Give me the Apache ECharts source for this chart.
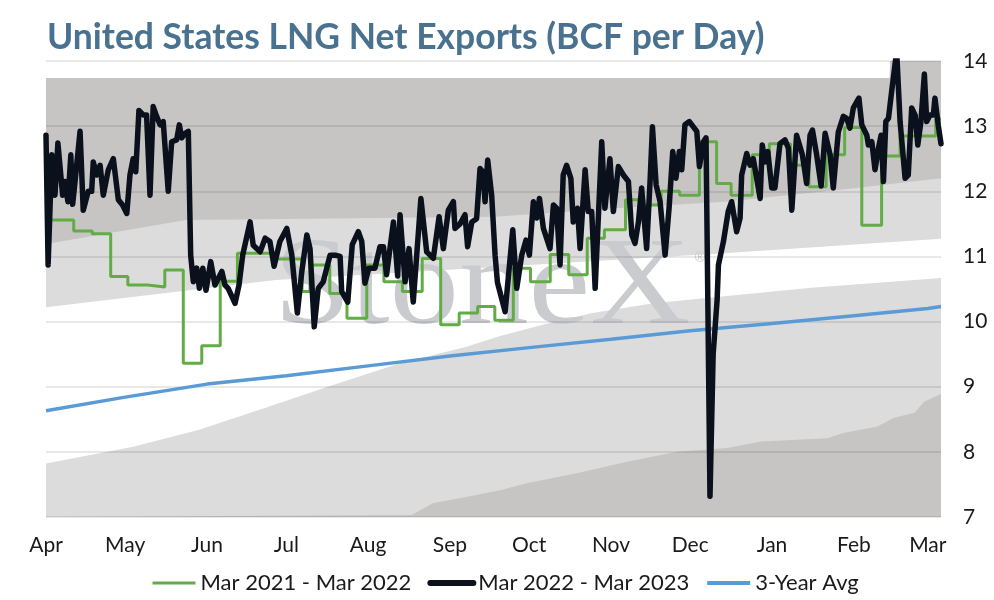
<!DOCTYPE html>
<html>
<head>
<meta charset="utf-8">
<script src="https://cdn.jsdelivr.net/npm/echarts@6/dist/echarts.min.js"></script>
<style>
  html, body { margin: 0; padding: 0; background: #fff; }
  #chart { width: 994px; height: 600px; }
</style>
</head>
<body>
<div id="chart"></div>
<script>
// x positions are days counted from Apr 1
const monthDays = [0, 30, 61, 91, 122, 153, 183, 214, 244, 275, 306, 334]
const monthLabels = ['Apr', 'May', 'Jun', 'Jul', 'Aug', 'Sep', 'Oct', 'Nov', 'Dec', 'Jan', 'Feb', 'Mar']

// Mar 2022 - Mar 2023 (black)
const days2223 = [0, 0.8, 2.2, 3.4, 4.5, 6.3, 7.2, 8.3, 9.4, 10.1, 11, 12.9, 14.1, 16, 17.3, 17.9, 19.2, 20.5, 21.7, 23.6,
  25.5, 27.4, 29, 30.6, 31.8, 33, 34, 35.2, 36.9, 38.1, 39.4, 40.6, 41.9, 43.2, 44.4, 46.3, 47.6, 49.5, 50.5, 51.4,
  52.7, 53.9, 54.8, 55.8, 57.1, 58.1, 59.4, 60.6, 62.4, 64, 66.6, 67.8, 69, 71.6, 73.1, 74.5, 77.3, 78.5, 81.1, 83,
  84.8, 86.4, 88.6, 91.2, 93.1, 95.2, 96.9, 98.8, 100, 101.6, 103.1, 105, 107.6, 109.5, 111.4, 112, 114.3, 116, 118.3, 119.6,
  120.8, 122.3, 124.6, 126.5, 127.8, 129, 131.6, 133.2, 134.1, 136, 137.5, 139.1, 142, 144.2, 146.7, 148.9, 150.5, 152.4, 154.3, 154.9,
  156.8, 158.7, 159.7, 161.3, 163.1, 164.4, 165.5, 166.3, 167.3, 168.8, 170.1, 171, 173.9, 176.8, 178.3, 180.2, 181.8, 183.1, 184.6, 185.9,
  186.9, 188.4, 190.9, 192.2, 193.4, 194.7, 195.9, 197.2, 198.8, 199.7, 201.3, 202.3, 204.2, 205.4, 206.7, 208, 210.5, 211.7, 213.6, 214.9,
  216.8, 218.7, 220.6, 221.9, 223.1, 224.4, 225.6, 227.5, 228.8, 229.7, 231.1, 232.6, 234.5, 236, 237.4, 238.6, 239.9, 240.8, 242, 243.7,
  245.2, 246.5, 247.5, 249, 250, 251.5, 252.7, 254.2, 254.7, 256.6, 258.4, 259.7, 261.6, 262.9, 263.5, 265.4, 266.7, 267.9, 270.5, 271.3,
  272.3, 273.4, 274.9, 276.1, 278, 279.9, 281.2, 282.5, 284.3, 286.5, 288.1, 289.4, 290.3, 291.9, 293.6, 295.1, 297, 298.2, 300.1, 302,
  303.3, 304.5, 305.8, 307.9, 309, 310.9, 311.5, 312.8, 314, 315.3, 316.3, 317.2, 318.1, 319.1, 320.3, 322.2, 323.5, 325.4, 326.6, 327.9,
  329.2, 330.2, 331.4, 332.7, 333.6, 334.8, 336.1, 336.7, 338, 339]
const vals2223 = [12.86, 10.87, 12.56, 11.94, 12.74, 11.94, 12.15, 11.84, 12.56, 11.8, 12.15, 12.92, 11.71, 12.0, 12.0, 12.45, 12.25, 12.4, 11.94, 12.33,
  12.5, 11.87, 11.79, 11.66, 12.25, 12.5, 12.3, 13.24, 13.17, 13.17, 11.94, 13.3, 13.15, 13.02, 13.07, 12.0, 12.76, 12.79, 13.02, 12.82,
  12.89, 12.92, 11.02, 10.61, 10.82, 10.51, 10.82, 10.48, 10.92, 10.56, 10.77, 10.56, 10.51, 10.28, 10.56, 11.02, 11.53, 11.17, 11.07, 11.28,
  11.23, 10.85, 11.23, 11.43, 11.02, 10.13, 10.77, 11.33, 11.12, 9.92, 10.51, 10.61, 11.02, 11.02, 11.0, 10.46, 10.3, 11.18, 11.38, 11.23,
  10.59, 10.82, 10.82, 11.15, 11.15, 10.72, 11.53, 10.7, 11.64, 10.61, 11.12, 10.3, 11.89, 11.07, 10.97, 11.61, 11.12, 11.71, 11.84, 11.43,
  11.5, 11.64, 11.15, 11.53, 11.58, 12.35, 12.3, 11.84, 12.48, 11.94, 11.02, 10.6, 10.15, 11.41, 10.51, 11.02, 11.25, 11.02, 11.84, 11.59,
  11.89, 11.43, 11.12, 11.79, 11.74, 10.87, 12.25, 12.4, 12.2, 11.53, 11.74, 11.12, 12.33, 11.69, 11.69, 10.51, 12.76, 11.74, 12.5, 11.69,
  12.38, 12.25, 12.15, 11.33, 11.2, 11.53, 12.05, 11.12, 12.15, 12.99, 12.1, 11.84, 11.02, 11.74, 12.61, 12.2, 12.61, 12.33, 13.02, 13.07,
  12.99, 12.92, 12.38, 12.76, 12.82, 7.32, 9.5, 10.33, 10.87, 11.23, 11.69, 11.84, 11.38, 11.59, 12.25, 12.58, 12.4, 12.5, 11.89, 12.71,
  12.45, 12.61, 12.05, 12.05, 12.73, 12.79, 12.66, 11.71, 12.86, 12.56, 12.12, 12.86, 12.94, 12.56, 12.08, 12.89, 12.56, 12.05, 12.91, 13.15,
  13.12, 12.97, 13.28, 13.43, 13.02, 12.86, 12.71, 12.76, 12.33, 12.66, 12.86, 12.15, 13.07, 13.12, 13.53, 14.15, 13.07, 12.2, 12.25, 13.28,
  13.17, 12.71, 13.07, 13.8, 13.07, 13.17, 13.17, 13.43, 13.0, 12.73]

// Mar 2021 - Mar 2022 (green, weekly steps: day each level starts)
const days2122 = [0, 10.5, 17.5, 24.5, 31, 38.5, 45, 52, 59, 66, 72.5, 87.5, 97, 100, 107.5, 114, 121.5, 128, 135, 142.5,
  149.5, 156.5, 163.5, 170, 177, 183.5, 191, 198, 205, 211.5, 219.5, 226.5, 233, 240, 247.5, 254, 259.5, 267.5, 274, 282,
  289, 295.5, 302.5, 309, 316.5, 323.5, 337, 339]
const vals2122 = [11.56, 11.39, 11.35, 10.69, 10.56, 10.53, 10.79, 9.36, 9.63, 10.62, 11.05, 10.96, 10.46, 10.87, 10.43, 10.05, 10.87, 10.61, 10.46, 10.97,
  9.95, 10.13, 10.23, 10.02, 10.82, 10.61, 11.03, 10.72, 11.28, 11.41, 11.87, 11.79, 12.0, 11.94, 12.76, 12.12, 11.94, 12.56, 12.73, 12.4,
  12.07, 12.56, 12.98, 11.48, 12.54, 12.85, 13.11, 13.11]

// 3-Year Avg (blue)
const daysAvg = [0, 30, 61, 91, 122, 153, 183, 214, 244, 275, 306, 334, 339]
const valsAvg = [8.63, 8.84, 9.04, 9.17, 9.32, 9.47, 9.6, 9.73, 9.86, 9.97, 10.09, 10.2, 10.23]

// range bands behind the lines (top edge of each band)
const daysMax = [0, 319.5, 320, 339]
const valsMax = [13.74, 13.74, 14.3, 14.3]
const daysHigh = [0, 53, 100, 170, 220, 257, 300, 339]
const valsHigh = [11.19, 11.56, 11.58, 11.61, 11.75, 11.84, 12.02, 12.2]
const daysMidHigh = [0, 87, 172, 244, 254, 339]
const valsMidHigh = [10.22, 10.64, 10.84, 11.02, 11.04, 11.27]
const daysMidLow = [0, 33, 58, 84, 109, 134, 159, 172, 190, 207, 230, 255, 290, 339]
const valsMidLow = [7.82, 8.08, 8.34, 8.69, 9.03, 9.36, 9.61, 9.78, 9.97, 10.13, 10.28, 10.38, 10.52, 10.67]
const daysMin = [0, 138.5, 146.5, 159.5, 172, 182, 201, 220, 239, 258, 271, 296, 302, 315, 321, 329, 332.6, 339]
const valsMin = [7, 7.03, 7.21, 7.31, 7.41, 7.52, 7.67, 7.85, 8.0, 8.06, 8.16, 8.21, 8.29, 8.39, 8.52, 8.6, 8.77, 8.89]

const zip = (xs, ys) => xs.map((x, i) => [x, ys[i]])

const darkBand = '#c6c5c4'
const lightBand = '#dcdcdc'
const band = (data, color) => ({
  type: 'line',
  data,
  symbol: 'none',
  silent: true,
  z: 1,
  lineStyle: { width: 0 },
  areaStyle: { color, opacity: 1, origin: 'start' },
  animation: false,
})

const font = 'Lato, "Open Sans", sans-serif'
const chart = echarts.init(document.getElementById('chart'), null, { renderer: 'canvas' })
chart.setOption({
  animation: false,
  backgroundColor: '#fff',
  title: {
    text: 'United States LNG Net Exports (BCF per Day)',
    left: 42,
    top: 15,
    textStyle: { color: '#48728f', fontFamily: font, fontWeight: 700, fontSize: 35.5 },
  },
  grid: { left: 46, right: 53, top: 61, bottom: 83, outerBoundsMode: 'none' },
  legend: {
    left: 146,
    top: 567,
    itemWidth: 43,
    itemHeight: 14,
    itemGap: 16,
    itemStyle: { opacity: 0 },
    data: [
      { name: 'Mar 2021 - Mar 2022', lineStyle: { width: 3 } },
      { name: 'Mar 2022 - Mar 2023', lineStyle: { width: 6 } },
      { name: '3-Year Avg', lineStyle: { width: 4 } },
    ],
    textStyle: { color: '#1a1a1a', fontFamily: font, fontSize: 22 },
  },
  graphic: [
    {
      type: 'text',
      z: 2,
      silent: true,
      x: 482,
      y: 290,
      scaleX: 1.12,
      style: {
        text: 'StoneX',
        x: 0,
        y: 0,
        align: 'center',
        verticalAlign: 'middle',
        font: '124px "Liberation Serif", serif',
        fill: '#c9cbce',
      },
    },
    {
      type: 'text',
      z: 2,
      silent: true,
      style: { text: '®', x: 700, y: 258, align: 'center', verticalAlign: 'middle', font: '14px sans-serif', fill: '#c9cbce' },
    },
  ],
  xAxis: {
    type: 'value',
    min: 0,
    max: 339,
    axisLine: { show: false },
    axisTick: { show: false },
    splitLine: { show: false },
    axisLabel: {
      customValues: monthDays,
      formatter: (v) => monthLabels[monthDays.indexOf(v)] || '',
      margin: 18,
      color: '#1a1a1a',
      fontFamily: font,
      fontSize: 21,
    },
  },
  yAxis: {
    type: 'value',
    position: 'right',
    min: 7,
    max: 14,
    interval: 1,
    z: 3,
    axisLine: { show: false },
    axisTick: { show: false },
    splitLine: { lineStyle: { color: 'rgba(0,0,0,0.12)', width: 1.5 } },
    axisLabel: { margin: 22, align: 'left', color: '#1a1a1a', fontFamily: font, fontSize: 21 },
  },
  series: [
    band(zip(daysMax, valsMax), darkBand),
    band(zip(daysHigh, valsHigh), lightBand),
    band(zip(daysMidHigh, valsMidHigh), '#ffffff'),
    band(zip(daysMidLow, valsMidLow), lightBand),
    band(zip(daysMin, valsMin), darkBand),
    {
      name: 'Mar 2021 - Mar 2022',
      type: 'line',
      step: 'end',
      data: zip(days2122, vals2122),
      symbol: 'none',
      z: 4,
      color: '#62ac45',
      lineStyle: { width: 3, color: '#62ac45' },
    },
    {
      name: 'Mar 2022 - Mar 2023',
      type: 'line',
      data: zip(days2223, vals2223),
      symbol: 'none',
      z: 5,
      color: '#0a111c',
      lineStyle: { width: 5.5, color: '#0a111c', join: 'round', cap: 'round' },
    },
    {
      name: '3-Year Avg',
      type: 'line',
      data: zip(daysAvg, valsAvg),
      symbol: 'none',
      z: 4,
      color: '#5b9bd5',
      lineStyle: { width: 3.5, color: '#5b9bd5' },
    },
  ],
})
</script>
</body>
</html>
